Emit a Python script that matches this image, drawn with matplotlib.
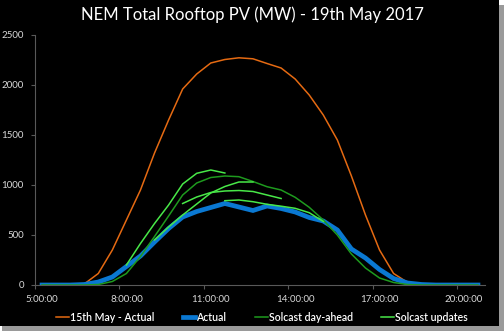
import numpy as np
import matplotlib
matplotlib.use("Agg")
import matplotlib.pyplot as plt
from matplotlib.patches import Rectangle

plt.rcParams['font.family'] = ['Lato', 'DejaVu Sans']

# half-hourly time slots, 5:00 to 20:30
times = ["5:00", "5:30", "6:00", "6:30", "7:00", "7:30", "8:00", "8:30",
         "9:00", "9:30", "10:00", "10:30", "11:00", "11:30", "12:00", "12:30",
         "13:00", "13:30", "14:00", "14:30", "15:00", "15:30", "16:00", "16:30",
         "17:00", "17:30", "18:00", "18:30", "19:00", "19:30", "20:00", "20:30"]

may15_actual = [0, 0, 0, 10, 115, 350, 650, 950,
                1320, 1650, 1960, 2110, 2220, 2255, 2272, 2262,
                2215, 2170, 2060, 1900, 1700, 1450, 1090, 700,
                350, 115, 25, 5, 0, 0, 0, 0]

actual = [0, 0, 0, 5, 30, 80, 185, 290,
          430, 565, 680, 735, 775, 815, 780, 745,
          790, 765, 730, 675, 640, 550, 360, 270,
          155, 65, 20, 5, 0, 0, 0, 0]

day_ahead = [0, 0, 0, 0, 5, 35, 115, 285,
             485, 690, 900, 1020, 1075, 1090, 1083, 1035,
             983, 950, 877, 777, 650, 500, 310, 170,
             70, 25, 5, 0, 0, 0, 0, 0]

# intraday Solcast runs: (first slot, values)
updates = [
    ("8:00", [200, 415, 615, 800, 1010, 1117, 1150, 1120]),
    ("9:00", [450, 580, 700, 810, 920, 985, 1030, 1030]),
    ("10:00", [815, 880, 925, 940, 945, 935, 900, 865]),
    ("11:30", [843, 850, 833, 807, 788, 767, 723, 635]),
]

xticks = ["5:00:00", "8:00:00", "11:00:00", "14:00:00", "17:00:00", "20:00:00"]


def to_hours(s):
    h, m = s.split(":")[:2]
    return int(h) + int(m) / 60.0


hrs = np.array([to_hours(t) for t in times])

fig = plt.figure(figsize=(5.04, 3.31), dpi=100, facecolor='white')
# drop shadow + black panel
fig.patches.append(Rectangle((0.004, 0.0), 0.996, 0.985, transform=fig.transFigure,
                             facecolor='#9a9a9a', edgecolor='none', zorder=-3))
fig.patches.append(Rectangle((0.0, 0.016), 0.99, 0.984, transform=fig.transFigure,
                             facecolor='black', edgecolor='none', zorder=-2))

ax = fig.add_axes([35 / 504, 46 / 331, 450 / 504, 250 / 331])
ax.set_facecolor('black')

l1, = ax.plot(hrs, may15_actual, color='#e56a12', lw=1.1)
l2, = ax.plot(hrs, actual, color='#0a78d2', lw=3.4, solid_joinstyle='miter')
l3, = ax.plot(hrs, day_ahead, color='#1e9a1e', lw=1.1)
for start, vals in updates:
    i0 = times.index(start)
    l4, = ax.plot(hrs[i0:i0 + len(vals)], vals, color='#48e848', lw=1.1)

ax.set_xlim(4.75, 20.75)
ax.set_ylim(0, 2500)
ax.set_yticks(range(0, 2501, 500))
ax.set_xticks([to_hours(t) for t in xticks])
ax.set_xticklabels(xticks)
ax.set_xticks([to_hours(t) - 0.25 for t in xticks], minor=True)

for side in ('top', 'right'):
    ax.spines[side].set_visible(False)
for side in ('left', 'bottom'):
    ax.spines[side].set_color('#595959')
    ax.spines[side].set_linewidth(0.8)

ax.tick_params(axis='y', colors='#595959', labelcolor='#d9d9d9', labelsize=7,
               length=3, width=0.8, pad=5)
ax.tick_params(axis='x', which='major', length=0, labelcolor='#d9d9d9',
               labelsize=7, pad=7)
ax.tick_params(axis='x', which='minor', colors='#595959', length=3, width=0.8)

fig.text(252 / 504, 1 - 15 / 331, "NEM Total Rooftop PV (MW) - 19th May 2017",
         color='white', fontsize=12, ha='center', va='center')

leg = fig.legend([l1, l2, l3, l4],
                 ["15th May - Actual", "Actual", "Solcast day-ahead", "Solcast updates"],
                 loc='lower left', bbox_to_anchor=(52 / 504, 4 / 331, 420 / 504, 20 / 331),
                 mode='expand', ncol=4, frameon=False, fontsize=7.6,
                 handlelength=1.2, handletextpad=0.1, borderaxespad=0)
for t in leg.get_texts():
    t.set_color('white')
    t.set_fontweight('semibold')

fig.savefig('out.png', dpi=100, facecolor=fig.get_facecolor())
